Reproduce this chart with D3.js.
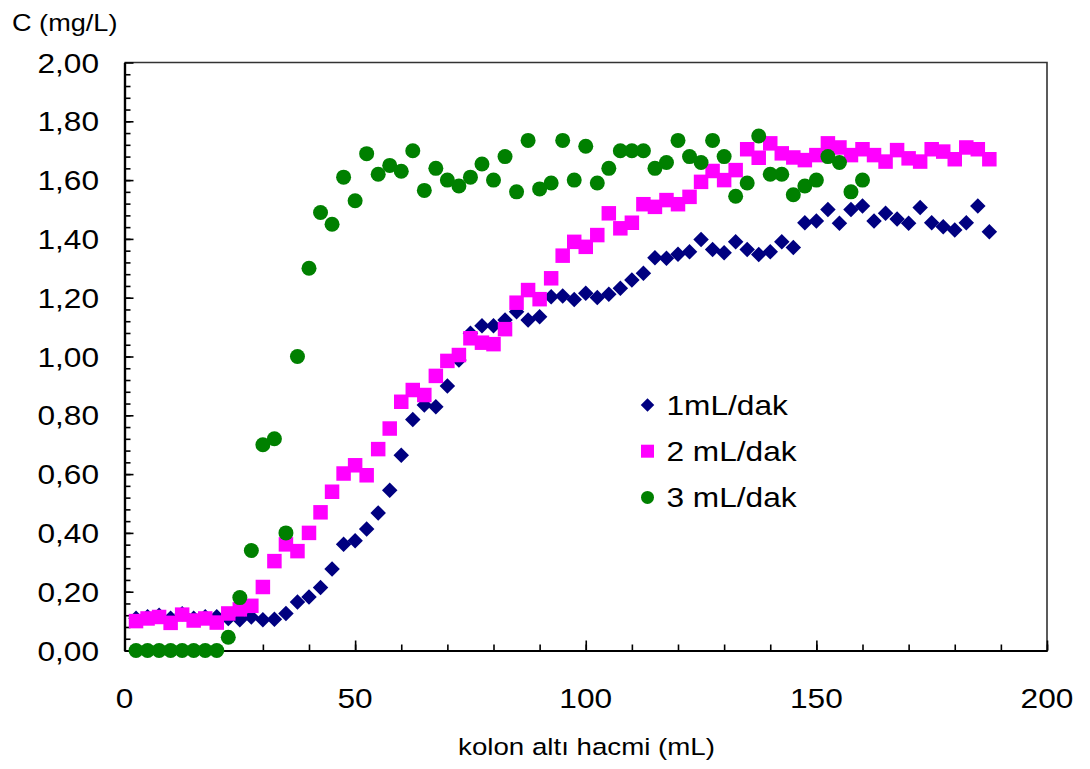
<!DOCTYPE html>
<html>
<head>
<meta charset="utf-8">
<script src="https://cdn.jsdelivr.net/npm/d3@7"></script>
<style>
  html, body { margin: 0; padding: 0; background: #fff; }
  svg { display: block; }
  text { font-family: "Liberation Sans", Arial, sans-serif; fill: #000; }
</style>
</head>
<body>
<div id="chart"></div>
<script>
// Effluent volume (mL) at each sampling point
const volumeMl = [
  2.5, 5, 7.5, 10, 12.5, 15, 17.5, 20, 22.5, 25, 27.5, 30, 32.5, 35, 37.5, 40,
  42.5, 45, 47.5, 50, 52.5, 55, 57.5, 60, 62.5, 65, 67.5, 70, 72.5, 75, 77.5, 80,
  82.5, 85, 87.5, 90, 92.5, 95, 97.5, 100, 102.5, 105, 107.5, 110, 112.5, 115, 117.5, 120,
  122.5, 125, 127.5, 130, 132.5, 135, 137.5, 140, 142.5, 145, 147.5, 150, 152.5, 155, 157.5, 160,
  162.5, 165, 167.5, 170, 172.5, 175, 177.5, 180, 182.5, 185, 187.5
];

// Outlet concentration C (mg/L), flow 1 mL/dak
const flow1 = [
  0.11, 0.115, 0.12, 0.11, 0.125, 0.11, 0.115, 0.115, 0.109, 0.105, 0.114, 0.105, 0.106, 0.126, 0.165, 0.182,
  0.214, 0.277, 0.361, 0.373, 0.413, 0.468, 0.545, 0.664, 0.786, 0.835, 0.829, 0.90, 0.988, 1.079, 1.105, 1.105,
  1.124, 1.152, 1.124, 1.135, 1.203, 1.206, 1.194, 1.215, 1.201, 1.212, 1.232, 1.26, 1.283, 1.336, 1.334, 1.348,
  1.356, 1.398, 1.364, 1.353, 1.39, 1.364, 1.347, 1.356, 1.39, 1.371, 1.455, 1.461, 1.50, 1.453, 1.50, 1.512,
  1.461, 1.487, 1.468, 1.453, 1.507, 1.455, 1.441, 1.43, 1.455, 1.512, 1.424
];

// Outlet concentration C (mg/L), flow 2 mL/dak
const flow2 = [
  0.10, 0.109, 0.114, 0.094, 0.122, 0.102, 0.109, 0.095, 0.126, 0.14, 0.152, 0.216, 0.304, 0.361, 0.338, 0.40,
  0.47, 0.54, 0.602, 0.63, 0.596, 0.685, 0.755, 0.846, 0.886, 0.869, 0.934, 0.985, 1.005, 1.062, 1.047, 1.042,
  1.093, 1.183, 1.226, 1.195, 1.266, 1.343, 1.39, 1.373, 1.413, 1.487, 1.436, 1.455, 1.518, 1.509, 1.532, 1.518,
  1.543, 1.594, 1.631, 1.60, 1.634, 1.705, 1.676, 1.725, 1.691, 1.677, 1.668, 1.685, 1.725, 1.711, 1.685, 1.705,
  1.685, 1.663, 1.702, 1.674, 1.663, 1.705, 1.697, 1.671, 1.711, 1.705, 1.671
];

// Outlet concentration C (mg/L), flow 3 mL/dak (sampling stops at 160 mL)
const flow3 = [
  0, 0, 0, 0, 0, 0, 0, 0, 0.045, 0.18, 0.34, 0.70, 0.72, 0.40, 1.00, 1.30,
  1.49, 1.45, 1.61, 1.53, 1.69, 1.62, 1.65, 1.63, 1.70, 1.565, 1.64, 1.60, 1.58, 1.61, 1.655, 1.60,
  1.68, 1.56, 1.735, 1.57, 1.59, 1.735, 1.60, 1.715, 1.59, 1.64, 1.70, 1.70, 1.70, 1.64, 1.66, 1.735,
  1.68, 1.66, 1.735, 1.68, 1.545, 1.59, 1.75, 1.62, 1.62, 1.55, 1.58, 1.60, 1.68, 1.66, 1.56, 1.60
];

const seriesNames = ["1mL/dak", "2 mL/dak", "3 mL/dak"];
const seriesColors = ["#000080", "#FF00FF", "#008000"];
const seriesShapes = ["diamond", "square", "circle"];

const xTickValues = [0, 50, 100, 150, 200];
const xTickLabels = ["0", "50", "100", "150", "200"];
const yTickValues = [0, 0.2, 0.4, 0.6, 0.8, 1.0, 1.2, 1.4, 1.6, 1.8, 2.0];
const yTickLabels = ["0,00", "0,20", "0,40", "0,60", "0,80", "1,00", "1,20", "1,40", "1,60", "1,80", "2,00"];
const xMinorTicks = d3.range(0, 201, 10);
const yMinorTicks = d3.range(0, 50).map(i => i * 0.04);

const yTitle = "C (mg/L)";
const xTitle = "kolon altı hacmi (mL)";

const W = 1090, H = 769;
const plot = { left: 124.5, right: 1047, top: 62.5, bottom: 650.5 };
const textStretch = 1.13;

const x = d3.scaleLinear().domain([0, 200]).range([plot.left, plot.right]);
const y = d3.scaleLinear().domain([0, 2]).range([plot.bottom, plot.top]);

const svg = d3.select("#chart").append("svg")
  .attr("width", W).attr("height", H);

// Plot frame: top and right edges
svg.append("path")
  .attr("d", `M${plot.left},${plot.top}H${plot.right}V${plot.bottom}`)
  .attr("fill", "none").attr("stroke", "#333").attr("stroke-width", 1.6);

// Y axis: minor and major ticks point into the plot
const gyMinor = svg.append("g").attr("transform", `translate(${plot.left},0)`)
  .call(d3.axisRight(y).tickValues(yMinorTicks).tickSize(6).tickSizeOuter(0).tickFormat(""));
const gy = svg.append("g").attr("transform", `translate(${plot.left},0)`)
  .call(d3.axisRight(y).tickValues(yTickValues).tickSize(9).tickSizeOuter(0).tickFormat(""));

// X axis
const gxMinor = svg.append("g").attr("transform", `translate(0,${plot.bottom})`)
  .call(d3.axisTop(x).tickValues(xMinorTicks).tickSize(6).tickSizeOuter(0).tickFormat(""));
const gx = svg.append("g").attr("transform", `translate(0,${plot.bottom})`)
  .call(d3.axisTop(x).tickValues(xTickValues).tickSize(10).tickSizeOuter(0).tickFormat(""));

[gyMinor, gy, gxMinor, gx].forEach(g => {
  g.selectAll("line").attr("stroke", "#000").attr("stroke-width", 1.6);
  g.select(".domain").attr("stroke", "#000").attr("stroke-width", 2.2);
});

// Tick labels (horizontally stretched glyphs)
svg.append("g").selectAll("text").data(yTickValues).join("text")
  .attr("transform", d => `translate(${plot.left - 25.5},${y(d) + 10}) scale(${textStretch},1)`)
  .attr("text-anchor", "end").attr("font-size", 28)
  .text((d, i) => yTickLabels[i]);

svg.append("g").selectAll("text").data(xTickValues).join("text")
  .attr("transform", d => `translate(${x(d)},${plot.bottom + 57}) scale(${textStretch},1)`)
  .attr("text-anchor", "middle").attr("font-size", 28)
  .text((d, i) => xTickLabels[i]);

// Axis titles
svg.append("text")
  .attr("transform", `translate(12,31) scale(${textStretch},1)`)
  .attr("font-size", 24).text(yTitle);
svg.append("text")
  .attr("transform", `translate(586.5,755) scale(${textStretch},1)`)
  .attr("text-anchor", "middle").attr("font-size", 24.5).text(xTitle);

// Marker symbols
function markerPath(shape, size) {
  const h = size / 2;
  if (shape === "diamond") return `M0,${-h}L${h},0L0,${h}L${-h},0Z`;
  if (shape === "square") return `M${-h},${-h}H${h}V${h}H${-h}Z`;
  return d3.symbol(d3.symbolCircle, Math.PI * h * h)();
}

const seriesValues = [flow1, flow2, flow3];
const markerSizes = [15.5, 14.5, 15];

seriesValues.forEach((vals, s) => {
  svg.append("g").selectAll("path").data(vals).join("path")
    .attr("transform", (d, i) => `translate(${x(volumeMl[i])},${y(d)})`)
    .attr("d", markerPath(seriesShapes[s], markerSizes[s]))
    .attr("fill", seriesColors[s]);
});

// Legend
const legend = svg.append("g").attr("transform", "translate(647.5,405)");
const legendGap = 46.2;
seriesNames.forEach((name, s) => {
  const g = legend.append("g").attr("transform", `translate(0,${s * legendGap})`);
  g.append("path")
    .attr("d", markerPath(seriesShapes[s], s === 0 ? 13.5 : 13))
    .attr("fill", seriesColors[s]);
  g.append("text")
    .attr("transform", `translate(19,10) scale(${textStretch},1)`)
    .attr("font-size", 28).text(name);
});
</script>
</body>
</html>
